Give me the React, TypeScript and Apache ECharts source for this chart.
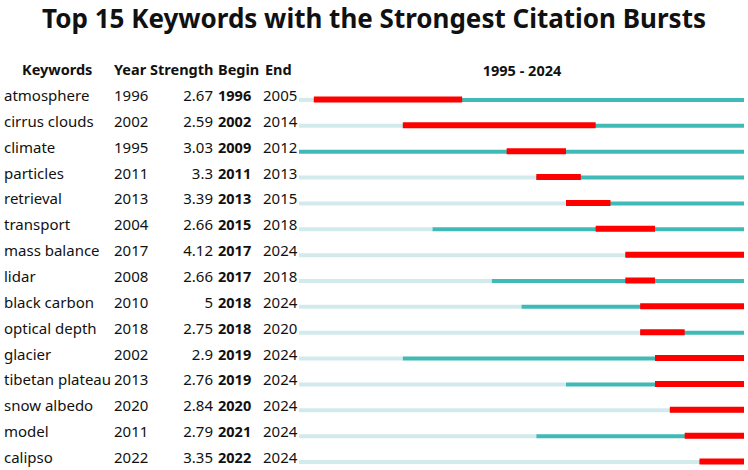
import React, { useEffect, useRef } from "react";
import * as echarts from "echarts";

const keywords = [
  "atmosphere", "cirrus clouds", "climate", "particles", "retrieval",
  "transport", "mass balance", "lidar", "black carbon", "optical depth",
  "glacier", "tibetan plateau", "snow albedo", "model", "calipso",
];
const years = [1996, 2002, 1995, 2011, 2013, 2004, 2017, 2008, 2010, 2018, 2002, 2013, 2020, 2011, 2022];
const strengths = [2.67, 2.59, 3.03, 3.3, 3.39, 2.66, 4.12, 2.66, 5, 2.75, 2.9, 2.76, 2.84, 2.79, 3.35];
const begins = [1996, 2002, 2009, 2011, 2013, 2015, 2017, 2017, 2018, 2018, 2019, 2019, 2020, 2021, 2022];
const ends = [2005, 2014, 2012, 2013, 2015, 2018, 2024, 2018, 2024, 2020, 2024, 2024, 2024, 2024, 2024];
const firstYear = 1995;
const lastYear = 2024;
const headers = ["Keywords", "Year", "Strength", "Begin", "End"];

const FONT = "'Noto Sans', 'Open Sans', sans-serif";
const LIGHT = "#d2eaec";
const TEAL = "#3fbab6";
const RED = "#ff0000";

export default function App() {
  const ref = useRef<HTMLDivElement>(null);
  useEffect(() => {
    if (!ref.current) return;
    const chart = echarts.init(ref.current, undefined, { renderer: "svg" });
    const data = keywords.map((_, i) => [i]);
    const hdr = `bold 14.5px ${FONT}`;
    const option: any = {
      animation: false,
      title: {
        text: "Top 15 Keywords with the Strongest Citation Bursts",
        left: "center",
        top: 0,
        textStyle: { fontFamily: FONT, fontSize: 26, fontWeight: "bold", color: "#111" },
      },
      graphic: [
        { type: "text", left: 22, top: 61, style: { text: headers[0], font: hdr, fill: "#111" } },
        { type: "text", left: 114, top: 61, style: { text: headers[1], font: hdr, fill: "#111" } },
        { type: "text", left: 150, top: 61, style: { text: headers[2], font: hdr, fill: "#111" } },
        { type: "text", left: 218, top: 61, style: { text: headers[3], font: hdr, fill: "#111" } },
        { type: "text", left: 265, top: 61, style: { text: headers[4], font: hdr, fill: "#111" } },
        {
          type: "text", x: 522, y: 70,
          style: { text: `${firstYear} - ${lastYear}`, font: hdr, fill: "#111", align: "center", verticalAlign: "middle" },
        },
      ],
      grid: { left: 299, right: 4, top: 82, height: 390 },
      xAxis: { type: "value", min: firstYear, max: lastYear + 1, show: false },
      yAxis: { type: "value", min: -0.5, max: keywords.length - 0.5, inverse: true, show: false },
      series: [
        {
          type: "custom",
          data,
          encode: { x: -1, y: 0 },
          renderItem: (params: any, api: any) => {
            const i = api.value(0);
            const y = api.coord([firstYear, i])[1];
            const x0 = api.coord([firstYear, i])[0];
            const xy = api.coord([years[i], i])[0];
            const xEnd = api.coord([lastYear + 1, i])[0];
            const xb = api.coord([begins[i], i])[0];
            const xe = api.coord([ends[i] + 1, i])[0];
            const by = y + 3;
            const txt = (text: string, x: number, align: string, bold = false) => ({
              type: "text",
              style: {
                text, x, y, align, verticalAlign: "middle",
                font: bold ? `bold 14.5px ${FONT}` : `15px ${FONT}`, fill: "#111",
              },
            });
            return {
              type: "group",
              children: [
                { type: "rect", shape: { x: x0, y: by, width: xy - x0, height: 4 }, style: { fill: LIGHT } },
                { type: "rect", shape: { x: xy, y: by, width: xEnd - xy, height: 4 }, style: { fill: TEAL } },
                { type: "rect", shape: { x: xb, y: by - 1.5, width: xe - xb, height: 6 }, style: { fill: RED } },
                txt(keywords[i], 4, "left"),
                txt(String(years[i]), 114, "left"),
                txt(String(strengths[i]), 213, "right"),
                txt(String(begins[i]), 218, "left", true),
                txt(String(ends[i]), 263, "left"),
              ],
            };
          },
        },
      ],
    };
    chart.setOption(option);
    return () => chart.dispose();
  }, []);
  return <div ref={ref} style={{ width: 748, height: 470, position: "absolute", left: 0, top: 0 }} />;
}
